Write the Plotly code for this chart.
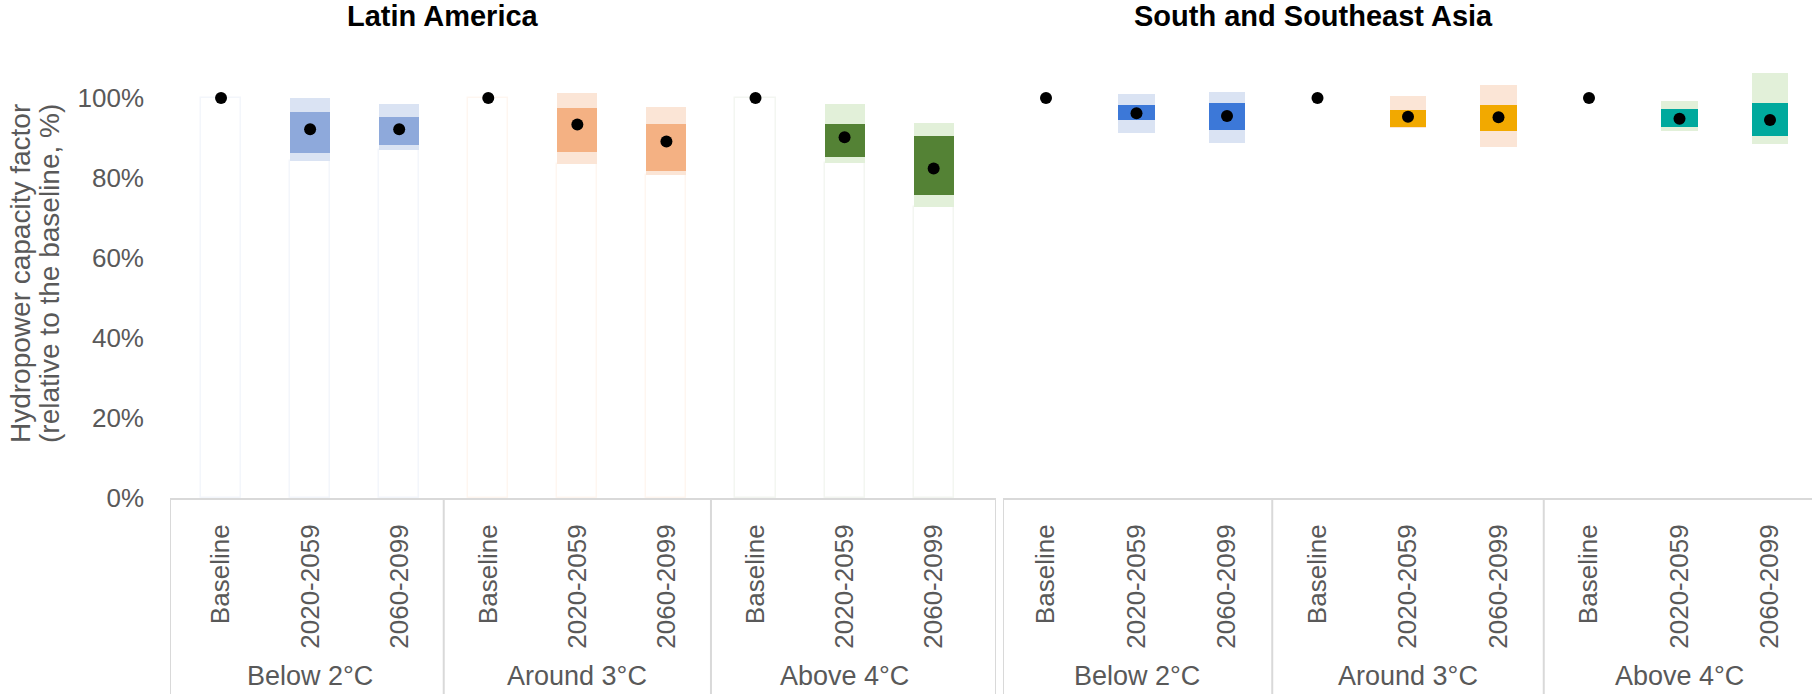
import plotly.graph_objects as go

# ---------------- data ----------------
periods = ["Baseline", "2020-2059", "2060-2099"]
scenarios = ["Below 2°C", "Around 3°C", "Above 4°C"]
regions = ["Latin America", "South and Southeast Asia"]
y_title = ["Hydropower capacity factor", "(relative to the baseline, %)"]
y_ticks = [0, 20, 40, 60, 80, 100]

# Latin America (% of baseline)
la_median = [100, 92.2, 92.2, 100, 93.4, 89.1, 100, 90.2, 82.4]
la_dark_lo = [None, 86.3, 88.2, None, 86.6, 81.8, None, 85.3, 75.8]
la_dark_hi = [None, 96.6, 95.3, None, 97.4, 93.5, None, 93.5, 90.5]
la_light_lo = [None, 84.3, 87.0, None, 83.4, 80.8, None, 83.8, 72.7]
la_light_hi = [None, 100.0, 98.5, None, 101.3, 97.8, None, 98.5, 93.8]

# South and Southeast Asia (% of baseline)
sa_median = [100, 96.2, 95.5, 100, 95.3, 95.2, 100, 94.8, 94.5]
sa_dark_lo = [None, 94.5, 92.0, None, 92.8, 91.8, None, 92.8, 90.5]
sa_dark_hi = [None, 98.2, 98.8, None, 97.0, 98.2, None, 97.2, 98.8]
sa_light_lo = [None, 91.2, 88.7, None, 92.5, 87.8, None, 91.8, 88.4]
sa_light_hi = [None, 100.9, 101.4, None, 100.6, 103.2, None, 99.3, 106.2]

# ---------------- styles ----------------
la_dark_cols = ["#8EA9DB", "#F4B183", "#548235"]
la_light_cols = ["#DAE3F3", "#FBE5D6", "#E2F0D9"]
la_faint_cols = ["rgba(142,169,219,0.10)", "rgba(244,177,131,0.12)", "rgba(84,130,53,0.07)"]
sa_dark_cols = ["#3C78D8", "#F2A900", "#00A99D"]
sa_light_cols = ["#DAE3F3", "#FBE5D6", "#E2F0D9"]

FONT = "Liberation Sans, Arial, sans-serif"
GREY = "#595959"
LINE = "#D9D9D9"
W, H = 1812, 694


def px_x(p):
    return p / W


def px_y(p):
    return 1 - p / H


ydom = [px_y(498), px_y(58)]
xdom_left = [px_x(170), px_x(996)]
xdom_right = [px_x(1003), 1.0]
xr_left = [-0.573, 8.70]
# right axis: categories step 90.5 px starting at 1046 px
xr_right = [-(1046 - 1003) / 90.5, (W - 1046) / 90.5]

n = len(periods) * len(scenarios)
xs = list(range(n))
ticktext = [p for s in scenarios for p in periods]

fig = go.Figure()


def add_panel(xa, ya, median, dlo, dhi, llo, lhi, dark_cols, light_cols, width, faint_cols=None):
    grp = [i // len(periods) for i in xs]
    if faint_cols is not None:
        tops = [llo[i] if llo[i] is not None else median[i] for i in xs]
        fig.add_trace(go.Bar(
            x=xs, y=tops, base=0, width=width, xaxis=xa, yaxis=ya,
            marker=dict(color="rgba(0,0,0,0)",
                        line=dict(color=[faint_cols[g] for g in grp], width=1.5)),
            showlegend=False, hoverinfo="skip"))
    idx = [i for i in xs if llo[i] is not None]
    fig.add_trace(go.Bar(
        x=idx, base=[llo[i] for i in idx], y=[lhi[i] - llo[i] for i in idx],
        width=width, xaxis=xa, yaxis=ya,
        marker=dict(color=[light_cols[grp[i]] for i in idx], line=dict(width=0)),
        showlegend=False))
    fig.add_trace(go.Bar(
        x=idx, base=[dlo[i] for i in idx], y=[dhi[i] - dlo[i] for i in idx],
        width=width, xaxis=xa, yaxis=ya,
        marker=dict(color=[dark_cols[grp[i]] for i in idx], line=dict(width=0)),
        showlegend=False))
    fig.add_trace(go.Scatter(
        x=xs, y=median, mode="markers", xaxis=xa, yaxis=ya,
        marker=dict(color="black", size=12), showlegend=False))


add_panel("x", "y", la_median, la_dark_lo, la_dark_hi, la_light_lo, la_light_hi,
          la_dark_cols, la_light_cols, 0.45, la_faint_cols)
add_panel("x2", "y2", sa_median, sa_dark_lo, sa_dark_hi, sa_light_lo, sa_light_hi,
          sa_dark_cols, sa_light_cols, 0.40)

axis_x_common = dict(
    tickmode="array", tickvals=xs, ticktext=ticktext, tickangle=-90,
    tickfont=dict(family=FONT, size=26, color=GREY), ticks="",
    showgrid=False, zeroline=False, showline=True, linecolor=LINE, linewidth=2,
    ticklabelstandoff=14, automargin=False,
)
fig.update_layout(
    template="none",
    width=W, height=H, margin=dict(l=0, r=0, t=0, b=0, pad=0),
    paper_bgcolor="white", plot_bgcolor="white",
    barmode="overlay", bargap=0,
    font=dict(family=FONT, color=GREY),
    xaxis=dict(domain=xdom_left, range=xr_left, anchor="y", **axis_x_common),
    xaxis2=dict(domain=xdom_right, range=xr_right, anchor="y2", **axis_x_common),
    yaxis=dict(domain=ydom, range=[0, 110], tickmode="array", tickvals=y_ticks,
               ticktext=[f"{v}%" for v in y_ticks],
               tickfont=dict(family=FONT, size=26, color=GREY),
               showgrid=False, zeroline=False, showline=False, ticks="",
               ticklabelstandoff=25, anchor="x", automargin=False),
    yaxis2=dict(domain=ydom, range=[0, 110], showticklabels=False,
                showgrid=False, zeroline=False, showline=False, anchor="x2",
                automargin=False),
)

# category box lines
shapes = []
for xa, edges in (("x", [xr_left[0], 2.5, 5.5, xr_left[1]]),
                  ("x2", [xr_right[0], 2.5, 5.5])):
    for e in edges:
        shapes.append(dict(type="line", xref=xa, yref="paper", x0=e, x1=e,
                           y0=ydom[0], y1=0, line=dict(color=LINE, width=2)))
fig.update_layout(shapes=shapes)

ann = []
for xa in ("x", "x2"):
    for k, s in enumerate(scenarios):
        ann.append(dict(text=s, xref=xa, yref="paper", x=k * len(periods) + 1,
                        y=px_y(676), showarrow=False, xanchor="center", yanchor="middle",
                        font=dict(family=FONT, size=27, color=GREY)))
for txt, cx in zip(regions, (443, 1313)):
    ann.append(dict(text=f"<b>{txt}</b>", xref="paper", yref="paper",
                    x=px_x(cx), y=px_y(16), showarrow=False, xanchor="center",
                    yanchor="middle", font=dict(family=FONT, size=29, color="black")))
for txt, cx in zip(y_title, (20, 49)):
    ann.append(dict(text=txt, xref="paper", yref="paper", x=px_x(cx), y=px_y(274),
                    textangle=-90, showarrow=False, xanchor="center", yanchor="middle",
                    borderpad=0, font=dict(family=FONT, size=28, color=GREY)))
fig.update_layout(annotations=ann)

# remove the default page margin so the figure fills the window exactly
fig.write_html("out.html", config={"displayModeBar": False},
               post_script="document.body.style.margin='0px';")
